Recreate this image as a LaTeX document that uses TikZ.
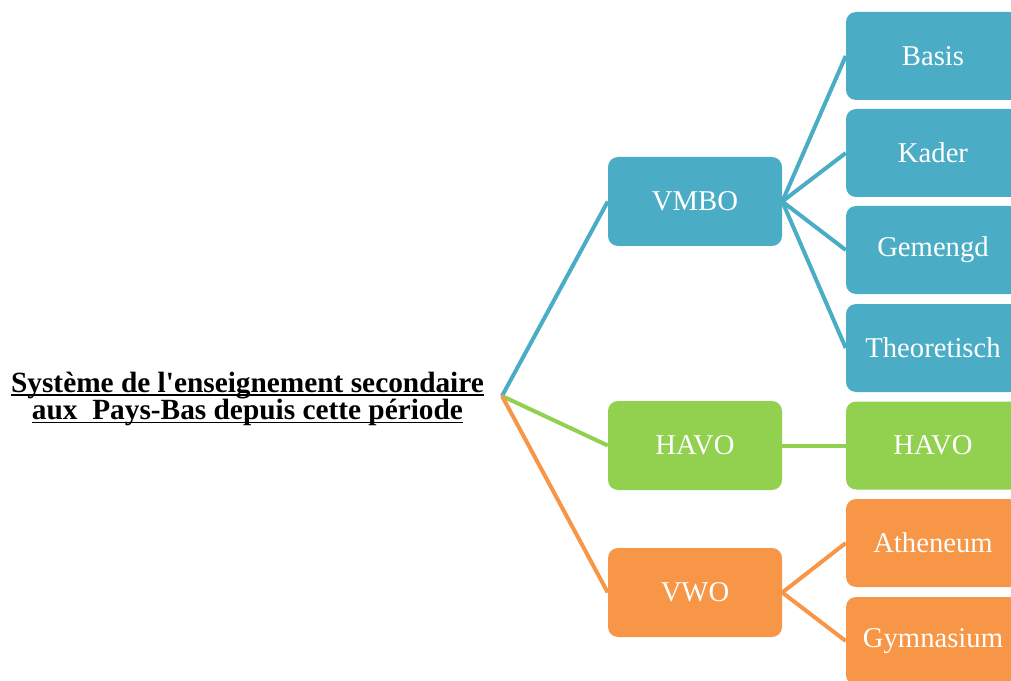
\documentclass[tikz,border=0pt]{standalone}
\usepackage{fontspec}
\setmainfont{Liberation Serif}
\usetikzlibrary{positioning}
\definecolor{vmboblue}{HTML}{4BACC6}
\definecolor{havogreen}{HTML}{92D050}
\definecolor{vwoorange}{HTML}{F79646}
\newcommand\titlefont{\fontsize{22}{20.5}\selectfont\bfseries\lineskiplimit=-50pt\relax}
\newcommand\titleline[1]{\setbox0\hbox{#1}\rlap{\rule[-2.8pt]{\wd0}{1.3pt}}\box0}

\begin{document}
\begin{tikzpicture}[x=0.75pt, y=-0.75pt,
                    box/.style={rounded corners=7.5pt, text=white, inner sep=0pt,
                                minimum width=130.5pt, minimum height=66pt,
                                font=\fontsize{21.5}{24}\selectfont},
                    link/.style={line width=3pt}]
\useasboundingbox (0,0) rectangle (1011,681);
\clip (0,0) rectangle (1011,681);
\node[align=center, font=\titlefont] (title) at (247.5,399)
  {\titleline{Système de l\textquotesingle enseignement secondaire}\\
   \titleline{aux\ \ Pays-Bas depuis cette période}};
\coordinate (root) at (502,396);
\node[box, fill=vmboblue, minimum height=66.75pt] (vmbo) at (695,201.5) {VMBO};
\node[box, fill=havogreen, minimum height=66.75pt] (havo) at (695,445.5) {HAVO};
\node[box, fill=vwoorange, minimum height=66.75pt] (vwo) at (695,592.5) {VWO};
\node[box, fill=vmboblue] (basis) at (933,56) {Basis};
\node[box, fill=vmboblue] (kader) at (933,153) {Kader};
\node[box, fill=vmboblue] (gemengd) at (933,250) {Gemengd};
\node[box, fill=vmboblue] (theoretisch) at (933,348) {Theoretisch};
\node[box, fill=havogreen] (havo2) at (933,445.5) {HAVO};
\node[box, fill=vwoorange] (atheneum) at (933,543) {Atheneum};
\node[box, fill=vwoorange] (gymnasium) at (933,641) {Gymnasium};
\draw[link, vmboblue] (root) -- (vmbo.west);
\draw[link, havogreen] (root) -- (havo.west);
\draw[link, vwoorange] (root) -- (vwo.west);
\draw[link, vmboblue] (vmbo.east) -- (basis.west);
\draw[link, vmboblue] (vmbo.east) -- (kader.west);
\draw[link, vmboblue] (vmbo.east) -- (gemengd.west);
\draw[link, vmboblue] (vmbo.east) -- (theoretisch.west);
\draw[link, havogreen] (havo.east) -- (havo2.west);
\draw[link, vwoorange] (vwo.east) -- (atheneum.west);
\draw[link, vwoorange] (vwo.east) -- (gymnasium.west);
\end{tikzpicture}
\end{document}
